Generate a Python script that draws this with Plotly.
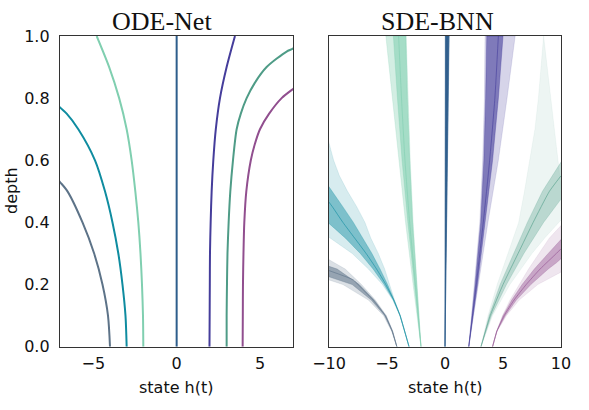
import plotly.graph_objects as go

# ---------------- data ----------------
names = ["slate", "teal", "mint", "darkblue", "indigo", "seagreen", "purple"]
colors = {
    "slate": "#5d7388",
    "teal": "#0f8ca0",
    "mint": "#80cfb0",
    "darkblue": "#2e5e8c",
    "indigo": "#453d9b",
    "seagreen": "#4f9c87",
    "purple": "#914f8f",
}

# ODE-Net trajectories: depth -> state
ode_depth = {
    "slate": [0, 0.1, 0.2, 0.3, 0.4, 0.5, 0.53, 0.56],
    "teal": [0, 0.1, 0.2, 0.3, 0.4, 0.5, 0.6, 0.7, 0.75, 0.77, 0.8],
    "mint": [0, 0.1, 0.2, 0.3, 0.4, 0.5, 0.6, 0.7, 0.8, 0.9, 1.0],
    "darkblue": [0, 0.5, 1.0],
    "indigo": [0, 0.1, 0.2, 0.3, 0.4, 0.5, 0.6, 0.7, 0.8, 0.9, 1.0],
    "seagreen": [0, 0.1, 0.2, 0.3, 0.4, 0.5, 0.6, 0.7, 0.75, 0.8, 0.85, 0.9, 0.95, 0.96, 1.0],
    "purple": [0, 0.1, 0.2, 0.3, 0.4, 0.5, 0.6, 0.65, 0.7, 0.75, 0.8, 0.83, 0.86],
}
ode_state = {
    "slate": [-4.0, -4.12, -4.45, -4.95, -5.65, -6.55, -7.0, -7.5],
    "teal": [-3.0, -3.07, -3.25, -3.5, -3.85, -4.3, -4.9, -5.9, -6.6, -7.0, -7.5],
    "mint": [-2.0, -2.02, -2.08, -2.17, -2.3, -2.48, -2.7, -3.0, -3.45, -4.05, -4.8],
    "darkblue": [0.0, 0.0, 0.0],
    "indigo": [1.97, 1.98, 1.99, 2.0, 2.04, 2.1, 2.2, 2.35, 2.6, 3.0, 3.5],
    "seagreen": [3.0, 3.0, 3.02, 3.05, 3.12, 3.22, 3.38, 3.6, 3.85, 4.2, 4.7, 5.4, 6.6, 7.0, 7.8],
    "purple": [3.96, 3.97, 3.98, 4.01, 4.06, 4.18, 4.45, 4.68, 5.0, 5.55, 6.3, 7.0, 7.8],
}

# SDE-BNN fans: outer envelope (least / most divergent), dense core edges, centre
sde_in_d = {
    "slate": [0, 0.05, 0.1, 0.15, 0.2, 0.25, 0.28],
    "teal": [0, 0.1, 0.15, 0.2, 0.25, 0.3, 0.35, 0.4, 0.45, 0.5, 0.55, 0.6, 0.67],
    "mint": [0, 0.2, 0.4, 0.6, 0.8, 1.0],
    "darkblue": [0, 0.5, 1.0],
    "indigo": [0, 0.2, 0.4, 0.6, 0.8, 1.0],
    "seagreen": [0, 0.1, 0.2, 0.3, 0.4, 0.5, 0.6, 0.7, 0.8, 0.9, 1.0],
    "purple": [0, 0.05, 0.1, 0.15, 0.2, 0.25, 0.3, 0.35, 0.39],
}
sde_in_x = {
    "slate": [-4.15, -4.5, -5.05, -6.0, -7.2, -8.6, -10.0],
    "teal": [-3.1, -3.85, -4.35, -4.8, -5.2, -5.75, -6.4, -6.9, -7.6, -8.4, -9.1, -9.6, -10.1],
    "mint": [-2.07, -2.4, -2.75, -3.0, -3.2, -3.35],
    "darkblue": [0.0, 0.0, 0.02],
    "indigo": [2.05, 2.55, 3.0, 3.25, 3.4, 3.45],
    "seagreen": [3.1, 3.7, 4.5, 5.4, 6.35, 6.85, 7.3, 7.75, 8.05, 8.3, 8.5],
    "purple": [4.1, 4.45, 4.95, 5.6, 6.4, 7.2, 8.1, 9.0, 10.0],
}
sde_out_d = {
    "slate": [0, 0.05, 0.1, 0.15, 0.2, 0.215, 0.23],
    "teal": [0, 0.1, 0.15, 0.2, 0.25, 0.3, 0.33, 0.36],
    "mint": [0, 0.2, 0.4, 0.6, 0.8, 1.0],
    "darkblue": [0, 0.5, 1.0],
    "indigo": [0, 0.2, 0.4, 0.6, 0.8, 1.0],
    "seagreen": [0, 0.1, 0.2, 0.3, 0.35, 0.4, 0.42],
    "purple": [0, 0.05, 0.1, 0.15, 0.2, 0.24],
}
sde_out_x = {
    "slate": [-4.15, -4.6, -5.3, -6.6, -8.8, -10.0, -11.0],
    "teal": [-3.1, -3.9, -4.5, -5.4, -6.6, -8.0, -9.2, -10.3],
    "mint": [-2.07, -2.75, -3.4, -4.0, -4.55, -5.1],
    "darkblue": [0.0, 0.18, 0.36],
    "indigo": [2.05, 2.9, 3.7, 4.6, 5.35, 6.05],
    "seagreen": [3.1, 4.1, 5.6, 7.5, 8.6, 9.8, 10.3],
    "purple": [4.1, 4.5, 5.3, 6.4, 8.0, 10.0],
}
core_in_d = {
    "slate": [0, 0.05, 0.1, 0.15, 0.2, 0.25, 0.26],
    "teal": [0, 0.1, 0.15, 0.2, 0.25, 0.3, 0.35, 0.4, 0.45, 0.5, 0.52],
    "mint": [0, 0.2, 0.4, 0.6, 0.8, 1.0],
    "darkblue": [0, 0.5, 1.0],
    "indigo": [0, 0.2, 0.4, 0.6, 0.8, 1.0],
    "seagreen": [0, 0.1, 0.2, 0.3, 0.4, 0.5, 0.58, 0.6],
    "purple": [0, 0.05, 0.1, 0.15, 0.2, 0.25, 0.3, 0.345],
}
core_in_x = {
    "slate": [-4.15, -4.52, -5.1, -6.1, -7.4, -9.3, -10.1],
    "teal": [-3.1, -3.86, -4.38, -4.95, -5.6, -6.3, -7.1, -7.9, -8.8, -9.7, -10.1],
    "mint": [-2.07, -2.42, -2.8, -3.05, -3.25, -3.38],
    "darkblue": [0.0, 0.02, 0.05],
    "indigo": [2.05, 2.6, 3.08, 3.35, 3.5, 3.6],
    "seagreen": [3.1, 3.8, 4.75, 5.9, 7.1, 8.4, 9.7, 10.1],
    "purple": [4.1, 4.46, 5.0, 5.75, 6.65, 7.7, 8.9, 10.0],
}
core_out_d = {
    "slate": [0, 0.05, 0.1, 0.15, 0.2, 0.225],
    "teal": [0, 0.1, 0.15, 0.2, 0.25, 0.3, 0.35, 0.38, 0.4],
    "mint": [0, 0.2, 0.4, 0.6, 0.8, 1.0],
    "darkblue": [0, 0.5, 1.0],
    "indigo": [0, 0.2, 0.4, 0.6, 0.8, 1.0],
    "seagreen": [0, 0.1, 0.2, 0.3, 0.4, 0.45, 0.48],
    "purple": [0, 0.05, 0.1, 0.15, 0.2, 0.25, 0.27, 0.29],
}
core_out_x = {
    "slate": [-4.15, -4.57, -5.2, -6.35, -8.0, -10.0],
    "teal": [-3.1, -3.88, -4.46, -5.25, -6.2, -7.3, -8.6, -9.5, -10.1],
    "mint": [-2.07, -2.65, -3.2, -3.7, -4.1, -4.45],
    "darkblue": [0.0, 0.16, 0.33],
    "indigo": [2.05, 2.8, 3.45, 4.1, 4.6, 5.0],
    "seagreen": [3.1, 4.0, 5.3, 6.8, 8.5, 9.5, 10.1],
    "purple": [4.1, 4.48, 5.2, 6.15, 7.4, 8.9, 9.6, 10.2],
}
mid_d = {
    "slate": [0, 0.05, 0.1, 0.15, 0.2, 0.215, 0.245],
    "teal": [0, 0.1, 0.15, 0.2, 0.25, 0.3, 0.35, 0.4, 0.45, 0.47],
    "mint": [0, 0.2, 0.4, 0.6, 0.8, 1.0],
    "darkblue": [0, 0.5, 1.0],
    "indigo": [0, 0.2, 0.4, 0.6, 0.8, 1.0],
    "seagreen": [0, 0.1, 0.2, 0.3, 0.4, 0.5, 0.55],
    "purple": [0, 0.05, 0.1, 0.15, 0.2, 0.25, 0.3, 0.315],
}
mid_x = {
    "slate": [-4.15, -4.55, -5.15, -6.2, -7.5, -7.9, -10.0],
    "teal": [-3.1, -3.87, -4.42, -5.1, -5.9, -6.8, -7.8, -8.8, -9.7, -10.1],
    "mint": [-2.07, -2.55, -3.05, -3.45, -3.75, -4.0],
    "darkblue": [0.0, 0.09, 0.18],
    "indigo": [2.05, 2.7, 3.3, 3.85, 4.3, 4.6],
    "seagreen": [3.1, 3.9, 5.0, 6.3, 7.6, 9.0, 10.0],
    "purple": [4.1, 4.47, 5.1, 5.95, 7.0, 8.2, 9.6, 10.0],
}
outer_alpha = {"slate": 0.22, "teal": 0.17, "mint": 0.35, "darkblue": 0.6,
               "indigo": 0.22, "seagreen": 0.1, "purple": 0.14}
core_alpha = {"slate": 0.55, "teal": 0.45, "mint": 0.55, "darkblue": 0.95,
              "indigo": 0.6, "seagreen": 0.32, "purple": 0.42}

y_ticks = [0.0, 0.2, 0.4, 0.6, 0.8, 1.0]
x_ticks_left = [-5, 0, 5]
x_ticks_right = [-10, -5, 0, 5, 10]
titles = ["ODE-Net", "SDE-BNN"]
x_label = "state h(t)"
y_label = "depth"


def rgba(h, a):
    h = h.lstrip("#")
    r, g, b = int(h[0:2], 16), int(h[2:4], 16), int(h[4:6], 16)
    return f"rgba({r},{g},{b},{a})"


fig = go.Figure()

# ODE-Net
for n in names:
    fig.add_trace(go.Scatter(
        x=ode_state[n], y=ode_depth[n], mode="lines",
        line=dict(color=colors[n], width=2, shape="spline", smoothing=0.8),
        xaxis="x", yaxis="y", showlegend=False, hoverinfo="skip"))

# SDE-BNN
for n in names:
    c = colors[n]
    for ix, idd, ox, od, a in [
        (sde_in_x[n], sde_in_d[n], sde_out_x[n], sde_out_d[n], outer_alpha[n]),
        (core_in_x[n], core_in_d[n], core_out_x[n], core_out_d[n], core_alpha[n]),
    ]:
        fig.add_trace(go.Scatter(
            x=ix + ox[::-1], y=idd + od[::-1], mode="lines", fill="toself",
            fillcolor=rgba(c, a), line=dict(width=0.5, color=rgba(c, min(1, a * 1.2))),
            xaxis="x2", yaxis="y2", showlegend=False, hoverinfo="skip"))
    fig.add_trace(go.Scatter(
        x=mid_x[n], y=mid_d[n], mode="lines",
        line=dict(color=rgba(c, 0.6), width=1, shape="spline", smoothing=0.5),
        xaxis="x2", yaxis="y2", showlegend=False, hoverinfo="skip"))

W, H = 589, 410
top_px, bot_px = 36, 346.7
ydom = [1 - bot_px / H, 1 - top_px / H]
axis_common = dict(showline=True, mirror=True, linecolor="#333333", linewidth=1.3,
                   showgrid=False, zeroline=False, ticks="", automargin=False,
                   tickfont=dict(family="DejaVu Sans", size=16, color="#111111"))

fig.update_layout(
    width=W, height=H,
    margin=dict(l=0, r=0, t=0, b=0, autoexpand=False),
    paper_bgcolor="white", plot_bgcolor="white",
    xaxis=dict(domain=[60 / W, 293.3 / W], range=[-7, 7], tickvals=x_ticks_left,
               anchor="y", ticklabelstandoff=2, **axis_common),
    yaxis=dict(domain=ydom, range=[0, 1], tickvals=y_ticks, tickformat=".1f",
               anchor="x", ticklabelstandoff=6, **axis_common),
    xaxis2=dict(domain=[329 / W, 561 / W], range=[-10, 10], tickvals=x_ticks_right,
                anchor="y2", ticklabelstandoff=2, **axis_common),
    yaxis2=dict(domain=ydom, range=[0, 1], tickvals=y_ticks, showticklabels=False,
                anchor="x2", **axis_common),
)

ann = []
for t, cx in zip(titles, [161.7, 437.5]):
    ann.append(dict(text=t, x=cx / W, y=1 - 36 / H, xref="paper", yref="paper",
                    xanchor="center", yanchor="bottom", showarrow=False, yshift=-2,
                    font=dict(family="Liberation Serif", size=26, color="#111111")))
for cx in [176.7, 445]:
    ann.append(dict(text=x_label, x=cx / W, y=1 - 387 / H, xref="paper", yref="paper",
                    xanchor="center", yanchor="middle", showarrow=False,
                    font=dict(family="DejaVu Sans", size=16, color="#111111")))
ann.append(dict(text=y_label, x=11 / W, y=1 - 191 / H, xref="paper", yref="paper",
                xanchor="center", yanchor="middle", showarrow=False, textangle=-90,
                font=dict(family="DejaVu Sans", size=16, color="#111111")))
fig.update_layout(annotations=ann)

fig.write_html("out.html", config={"displayModeBar": False},
               post_script="document.body.style.margin='0';")
